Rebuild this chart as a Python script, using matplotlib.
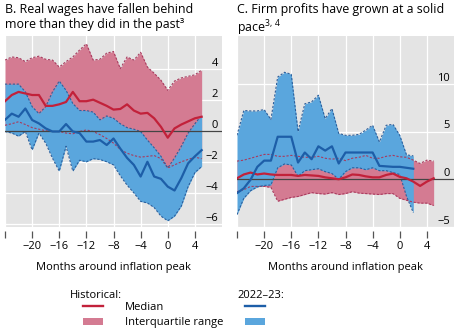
import matplotlib.pyplot as plt
from matplotlib.patches import Patch
from matplotlib.lines import Line2D

plt.rcParams['font.family'] = ['Open Sans', 'DejaVu Sans']
plt.rcParams['axes.unicode_minus'] = True
plt.rcParams['mathtext.fontset'] = 'custom'
plt.rcParams['mathtext.rm'] = 'Open Sans'

months_b = list(range(-24, 6))
months_c_hist = list(range(-24, 6))
months_c_new = list(range(-24, 3))

# panel B: real wages
b_hist_med = [1.9, 2.3, 2.5, 2.4, 2.3, 2.3, 1.6, 1.6, 1.7, 1.85, 2.5, 1.9, 1.9, 2.0, 1.8,
              1.6, 1.36, 1.4, 1.7, 1.3, 1.1, 1.15, 0.8, 0.25, -0.45, 0.15, 0.4, 0.6, 0.8, 0.9]
b_hist_hi = [4.55, 4.75, 4.7, 4.45, 4.7, 4.8, 4.6, 4.55, 4.1, 4.45, 4.75, 5.2, 5.6, 4.55, 4.6,
             5.0, 5.1, 4.0, 4.75, 4.55, 5.05, 4.1, 3.7, 3.25, 2.6, 3.2, 3.4, 3.5, 3.6, 3.9]
b_hist_lo = [0.35, 0.45, 0.58, 0.4, 0.2, 0.1, 0.0, -0.05, -0.05, -0.15, -0.2, -0.05, 0.05, -0.05, -0.25,
             -0.5, -0.8, -1.2, -1.45, -1.6, -1.7, -1.65, -1.6, -1.8, -2.4, -2.2, -2.0, -1.85, -1.7, -1.8]
b_new_med = [0.7, 1.1, 0.9, 1.43, 0.69, 0.47, 0.15, -0.05, -0.05, 0.43, -0.05, -0.15, -0.7, -0.7, -0.6,
             -0.92, -0.5, -1.15, -1.75, -2.2, -2.95, -2.0, -2.95, -3.1, -3.6, -3.85, -3.05, -2.1, -1.65, -1.25]
b_new_hi = [3.0, 3.0, 3.0, 2.5, 1.55, 1.1, 1.55, 2.5, 3.2, 2.6, 1.75, 1.3, 1.3, 1.2, 0.7,
            0.95, 0.8, 0.45, 0.2, 0.1, -0.05, -0.6, -1.1, -1.65, -2.4, -1.75, -1.0, -0.15, 0.45, 1.0]
b_new_lo = [-0.05, -0.15, -0.35, -0.05, -1.24, -0.15, -0.8, -1.77, -2.6, -1.0, -2.6, -1.9, -2.0, -1.8, -1.85,
            -2.0, -2.2, -2.9, -3.5, -4.0, -4.55, -4.65, -4.95, -5.5, -5.8, -5.5, -4.85, -3.6, -2.7, -2.3]

# panel C: firm profits
c_hist_med = [0.1, 0.5, 0.7, 0.5, 0.6, 0.5, 0.45, 0.45, 0.45, 0.35, 0.45, 0.4, 0.35, 0.2, 0.1,
              0.0, 0.2, 0.5, 0.45, 0.3, 0.2, 0.2, 0.45, 0.6, 0.25, 0.1, -0.25, -0.7, -0.25, 0.1]
c_hist_hi = [1.9, 2.0, 2.2, 2.4, 2.6, 2.6, 2.4, 2.4, 2.5, 2.4, 2.3, 2.3, 2.4, 2.2, 2.1,
             2.2, 1.95, 2.2, 2.3, 2.5, 2.2, 2.2, 2.4, 2.5, 2.35, 2.3, 2.0, 1.65, 2.0, 1.9]
c_hist_lo = [-1.3, -1.1, -0.75, -0.75, -0.75, -0.85, -2.3, -2.1, -1.9, -1.8, -1.6, -1.4, -1.5, -1.55, -1.4,
             -1.6, -1.5, -1.3, -1.45, -1.5, -1.55, -1.6, -1.5, -1.5, -2.0, -2.2, -2.4, -2.5, -2.5, -2.75]
c_new_med = [-1.45, -0.95, -0.05, 1.3, 1.95, 1.95, 4.45, 4.45, 4.45, 1.75, 2.8, 2.1, 3.45, 3.0,
             3.45, 1.65, 2.8, 2.8, 2.8, 2.8, 2.8, 1.4, 1.35, 1.3, 1.3, 1.2, 1.1]
c_new_hi = [4.6, 7.2, 7.15, 7.15, 7.3, 6.25, 10.7, 11.2, 11.0, 5.0, 7.9, 8.1, 8.8, 6.35,
            7.4, 4.8, 4.6, 4.6, 4.7, 5.15, 5.65, 3.9, 5.65, 5.75, 4.6, 2.55, 2.45]
c_new_lo = [-3.7, -2.0, -1.2, -0.8, -0.65, -0.6, 1.2, 1.6, 1.5, 0.3, 0.9, 1.0, 1.1, 0.8,
            0.6, 0.0, 0.8, 1.2, 1.2, 1.0, 1.2, 0.9, 0.9, 0.7, 0.5, -1.8, -3.5]

xticks = [-24, -20, -16, -12, -8, -4, 0, 4]
xticklabels = ['', '\u221220', '\u221216', '\u221212', '\u22128', '\u22124', '0', '4']

BG = '#e4e4e4'
PINK = '#d47b92'
PINK_EDGE = '#a83a5e'
RED = '#c2213a'
BLUE_FILL = '#5aa6dd'
BLUE_EDGE = '#2c5f9c'
BLUE = '#1d5ea8'

fig = plt.figure(figsize=(4.67, 3.35), dpi=100)
ax_b = fig.add_axes([5 / 467, 108 / 335, 217 / 467, 191 / 335])
ax_c = fig.add_axes([237 / 467, 108 / 335, 217 / 467, 191 / 335])


def draw_panel(ax, xh, med, hi, lo, xn, nmed, nhi, nlo, ylim, yticks):
    ax.set_facecolor(BG)
    ax.fill_between(xh, lo, hi, color=PINK, lw=0, zorder=1)
    ax.fill_between(xn, nlo, nhi, color=BLUE_FILL, lw=0, zorder=2)
    for s in (hi, lo):
        ax.plot(xh, s, color=PINK_EDGE, lw=0.8, ls=(0, (2, 1.5)), zorder=3)
    for s in (nhi, nlo):
        ax.plot(xn, s, color=BLUE_EDGE, lw=0.8, ls=(0, (2, 1.5)), zorder=3)
    ax.axhline(0, color='#444444', lw=0.9, zorder=3.5)
    ax.plot(xh, med, color=RED, lw=1.6, zorder=4)
    ax.plot(xn, nmed, color=BLUE, lw=1.6, zorder=4)

    ax.set_xlim(-24, 8)
    ax.set_ylim(*ylim)
    ax.set_xticks(xticks)
    ax.set_xticklabels(xticklabels)
    ax.set_yticks(yticks)
    ax.set_yticklabels([str(t).replace('-', '\u2212') for t in yticks])
    ax.grid(True, color='white', lw=0.9, zorder=0)
    ax.set_axisbelow(True)
    for sp in ax.spines.values():
        sp.set_visible(False)
    ax.spines['bottom'].set_position(('outward', 3))
    ax.tick_params(axis='x', length=5, width=0.9, color='#555555', labelsize=8, pad=2)
    ax.yaxis.tick_right()
    ax.tick_params(axis='y', length=0, labelsize=8, pad=-3)
    plt.setp(ax.get_yticklabels(), ha='right', va='bottom')
    ax.set_xlabel('Months around inflation peak', fontsize=8, labelpad=7)


draw_panel(ax_b, months_b, b_hist_med, b_hist_hi, b_hist_lo,
           months_b, b_new_med, b_new_hi, b_new_lo, (-6.2, 6.1), [-6, -4, -2, 0, 2, 4])
draw_panel(ax_c, months_c_hist, c_hist_med, c_hist_hi, c_hist_lo,
           months_c_new, c_new_med, c_new_hi, c_new_lo, (-5, 15), [-5, 0, 5, 10])

fig.text(5 / 467, 1 - 3 / 335, 'B. Real wages have fallen behind\nmore than they did in the past\u00b3',
         ha='left', va='top', fontsize=8.9, linespacing=1.2)
fig.text(237 / 467, 1 - 3 / 335, 'C. Firm profits have grown at a solid\npace$^{\\mathrm{3,\\,4}}$',
         ha='left', va='top', fontsize=8.9, linespacing=1.2)

fig.text(70 / 467, 1 - 296 / 335, 'Historical:', ha='left', va='center', fontsize=8)
fig.text(237 / 467, 1 - 296 / 335, '2022\u201323:', ha='left', va='center', fontsize=8)

handles = [Line2D([], [], color=RED, lw=1.7),
           Patch(facecolor=PINK, edgecolor='none'),
           Line2D([], [], color=BLUE, lw=1.7),
           Patch(facecolor=BLUE_FILL, edgecolor='none')]
labels = ['Median', 'Interquartile range', '', '']
fig.legend(handles, labels, ncol=2, frameon=False, fontsize=8,
           loc='upper left', bbox_to_anchor=(83 / 467, 1 - 302 / 335),
           borderpad=0, borderaxespad=0, handlelength=1.8, handleheight=0.7,
           handletextpad=2.0, columnspacing=1.9, labelspacing=0.4)

fig.savefig('out.png', dpi=100)
